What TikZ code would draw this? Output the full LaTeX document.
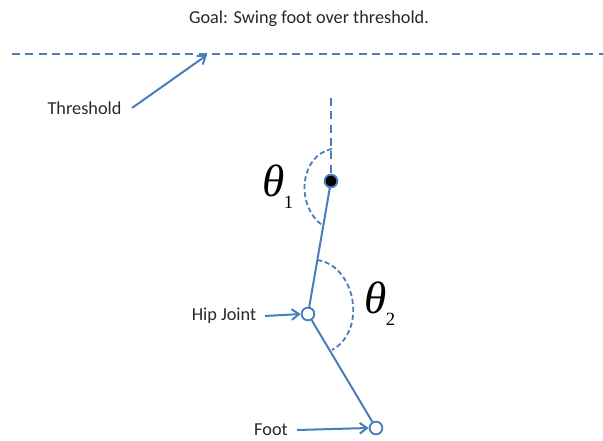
\documentclass[tikz,border=0pt]{standalone}
\usepackage{fontspec}
\setmainfont{Carlito}
\newfontfamily\thetafont{Liberation Serif}
\usetikzlibrary{arrows.meta}
\definecolor{lineblue}{RGB}{74,126,187}
\definecolor{txt}{RGB}{40,40,40}
\begin{document}
\begin{tikzpicture}[x=0.75pt,y=-0.75pt,
  link/.style={draw=lineblue,line width=1.5pt},
  ptr/.style={draw=lineblue,line width=1.5pt,-{Straight Barb[length=5.5pt,width=8pt]}},
  dashln/.style={draw=lineblue,line width=1.5pt,dash pattern=on 6pt off 4pt},
  arcln/.style={draw=lineblue,line width=1.35pt,dash pattern=on 3.8pt off 2.2pt},
  joint/.style={circle,draw=lineblue,line width=1.4pt,inner sep=0pt,minimum size=9.5pt},
  lbl/.style={text=txt,font=\fontsize{13.7}{15}\selectfont,inner sep=0pt},
  ang/.style={text=black,inner sep=0pt,anchor=base west}]
\useasboundingbox (0,0) rectangle (603,441);
% title
\node[lbl] (title) at (309,19) {Goal: Swing foot over threshold.};
% threshold line
\coordinate (thl) at (12,54);
\coordinate (thr) at (603,54);
\draw[dashln] (thl) -- (thr);
\node[lbl] (thlabel) at (84.5,108) {Threshold};
\coordinate (thstart) at (132,108);
\coordinate (thtip) at (207,55);
\draw[ptr] (thstart) -- (thtip);
% joints
\node[joint,fill=black] (top) at (331,181) {};
\node[joint,fill=white] (hip) at (308,314) {};
\node[joint,fill=white] (foot) at (376,428) {};
\coordinate (vtop) at (331,98);
\draw[dashln] (vtop) -- (top.north);
\draw[link] (top) -- (hip);
\draw[link] (hip) -- (foot);
% angle arcs
\coordinate (a1s) at (332,149);
\coordinate (a1e) at (322,225);
\draw[arcln] (a1s) .. controls (300,155) and (295,205) .. (a1e);
\coordinate (a2s) at (317,260);
\coordinate (a2e) at (332,350);
\draw[arcln] (a2s) .. controls (355,265) and (368,330) .. (a2e);
% angle labels
\node[ang] (th1) at (262,197) {\thetafont\fontsize{34}{36}\selectfont\itshape θ\hspace{-0.5pt}\raisebox{-8.5pt}{\fontsize{14}{16}\selectfont\upshape 1}};
\node[ang] (th2) at (364,314) {\thetafont\fontsize{34}{36}\selectfont\itshape θ\hspace{-0.5pt}\raisebox{-8.5pt}{\fontsize{14}{16}\selectfont\upshape 2}};
% labels with pointers
\node[lbl] (hiplabel) at (224,316) {Hip Joint};
\coordinate (hipstart) at (265,316);
\draw[ptr] (hipstart) -- (hip.west);
\node[lbl] (footlabel) at (271,430) {Foot};
\coordinate (footstart) at (297,430);
\draw[ptr] (footstart) -- (foot.west);
\end{tikzpicture}
\end{document}
